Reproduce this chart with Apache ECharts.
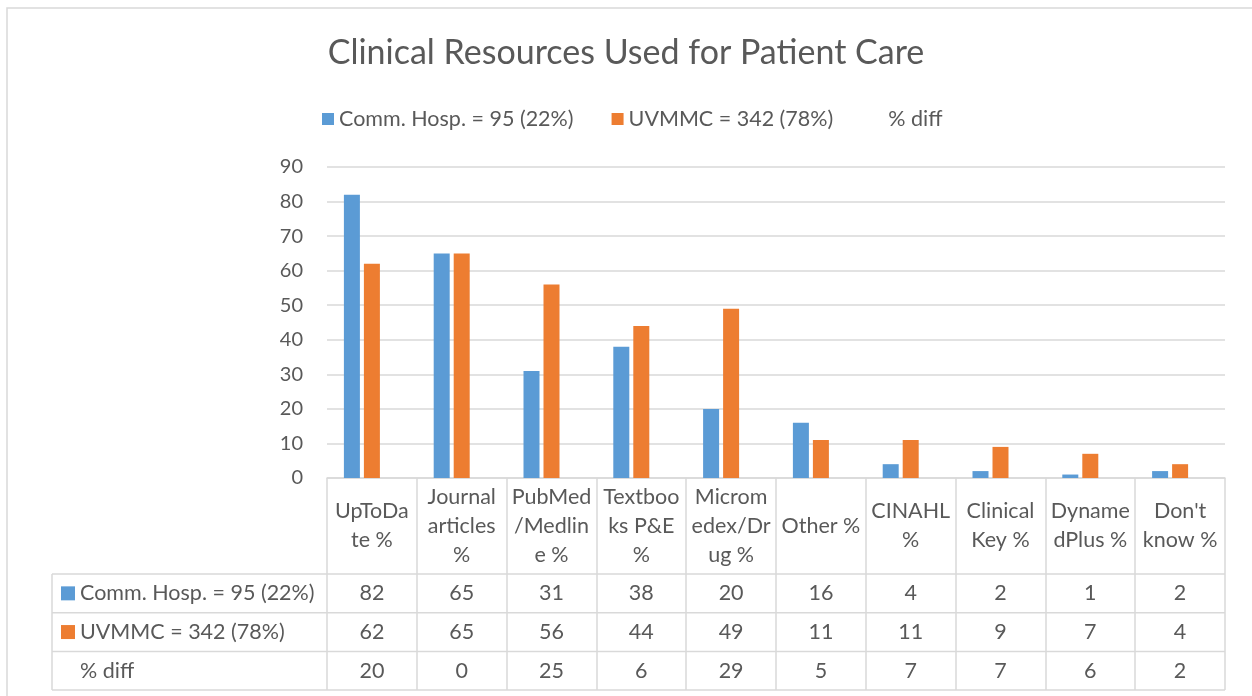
<!DOCTYPE html>
<html>
<head>
<meta charset="utf-8">
<script src="https://cdn.jsdelivr.net/npm/echarts@6/dist/echarts.min.js"></script>
<style>html,body{margin:0;padding:0;background:#fff;}#c{width:1252px;height:696px;}</style>
</head>
<body>
<div id="c"></div>
<script>
const categories = ['UpToDate %','Journal articles %','PubMed/Medline %','Textbooks P&E %','Micromedex/Drug %','Other %','CINAHL %','Clinical Key %','DynamedPlus %',"Don't know %"];
const categoryLabels = ['UpToDa\nte %','Journal\narticles\n%','PubMed\n/Medlin\ne %','Textboo\nks P&E\n%','Microm\nedex/Dr\nug %','Other %','CINAHL\n%','Clinical\nKey %','Dyname\ndPlus %',"Don't\nknow %"];
const seriesNames = ['Comm. Hosp. = 95 (22%)','UVMMC = 342 (78%)','% diff'];
const commHosp = [82,65,31,38,20,16,4,2,1,2];
const uvmmc    = [62,65,56,44,49,11,11,9,7,4];
const pctDiff  = [20,0,25,6,29,5,7,7,6,2];
const yMin = 0, yMax = 90, yStep = 10;

const FONT = 'Lato';
const TXT = '#595959';
const LINE = '#D9D9D9';
const BLUE = '#5B9BD5', ORANGE = '#ED7D31';
const W = 1252, H = 696;
const GRID = {left: 327, right: 27, top: 167, bottom: 218};
const CAT_H = 96, ROW_H = 38.7, TABLE_LEFT = 52;
const FS = 21.5;

const rows = [commHosp, uvmmc, pctDiff];
const colors = [BLUE, ORANGE, 'rgba(0,0,0,0)'];

const xAxes = [{
  type: 'category', data: categories, position: 'bottom',
  axisLine: {show: true, lineStyle: {color: LINE, width: 1.5}},
  axisTick: {show: true, interval: 0, length: CAT_H + 3 * ROW_H, lineStyle: {color: LINE, width: 1.5}},
  axisLabel: {interval: 0, margin: CAT_H / 2, verticalAlign: 'middle', lineHeight: 29,
    fontFamily: FONT, fontSize: FS, color: TXT, align: 'center',
    formatter: (v, i) => categoryLabels[i]}
}];
rows.forEach((r, k) => {
  xAxes.push({
    type: 'category', data: categories, position: 'bottom',
    axisLine: {show: false}, axisTick: {show: false},
    axisLabel: {interval: 0, margin: CAT_H + ROW_H * (k + 0.5), verticalAlign: 'middle',
      fontFamily: FONT, fontSize: FS, color: TXT, formatter: (v, i) => String(r[i])}
  });
});

const series = seriesNames.map((n, k) => ({
  name: n, type: 'bar', data: rows[k], xAxisIndex: 0,
  barWidth: 16, barGap: '25%',
  itemStyle: {color: colors[k]}
}));

// table graphics (layout only)
const gx0 = GRID.left, gx1 = W - GRID.right, gy0 = H - GRID.bottom;
const graphic = [];
graphic.push({type: 'rect', shape: {x: 7, y: 8, width: W + 20, height: H + 20}, style: {fill: 'none', stroke: LINE, lineWidth: 1.5}, silent: true});
for (let k = 0; k <= 3; k++) {
  const y = gy0 + CAT_H + ROW_H * k;
  graphic.push({type: 'line', shape: {x1: TABLE_LEFT, y1: y, x2: gx1, y2: y}, style: {stroke: LINE, lineWidth: 1.5}, silent: true});
}
graphic.push({type: 'line', shape: {x1: TABLE_LEFT, y1: gy0 + CAT_H, x2: TABLE_LEFT, y2: gy0 + CAT_H + 3 * ROW_H}, style: {stroke: LINE, lineWidth: 1.5}, silent: true});
seriesNames.forEach((n, k) => {
  const cy = gy0 + CAT_H + ROW_H * (k + 0.5);
  if (k < 2) graphic.push({type: 'rect', shape: {x: 61, y: cy - 7, width: 14, height: 14}, style: {fill: colors[k]}, silent: true});
  graphic.push({type: 'text', x: 80, y: cy, style: {text: n, fontFamily: FONT, fontSize: FS, fill: TXT, verticalAlign: 'middle', align: 'left'}, silent: true});
});

const chart = echarts.init(document.getElementById('c'), null, {renderer: 'canvas'});
chart.setOption({
  animation: false,
  backgroundColor: '#fff',
  title: {text: 'Clinical Resources Used for Patient Care', left: 'center', top: 31,
    textStyle: {fontFamily: FONT, fontSize: 34, fontWeight: 'normal', color: TXT}},
  legend: {top: 103, left: 317, itemWidth: 12, itemHeight: 12, itemGap: 38, icon: 'rect',
    data: seriesNames,
    textStyle: {fontFamily: FONT, fontSize: FS, color: TXT}},
  grid: {left: GRID.left, right: GRID.right, top: GRID.top, bottom: GRID.bottom, containLabel: false},
  xAxis: xAxes,
  yAxis: {type: 'value', min: yMin, max: yMax, interval: yStep,
    axisLine: {show: false}, axisTick: {show: false},
    axisLabel: {margin: 24, fontFamily: FONT, fontSize: 20, color: TXT},
    splitLine: {lineStyle: {color: LINE, width: 1.5}}},
  series: series,
  graphic: graphic
});
</script>
</body>
</html>
